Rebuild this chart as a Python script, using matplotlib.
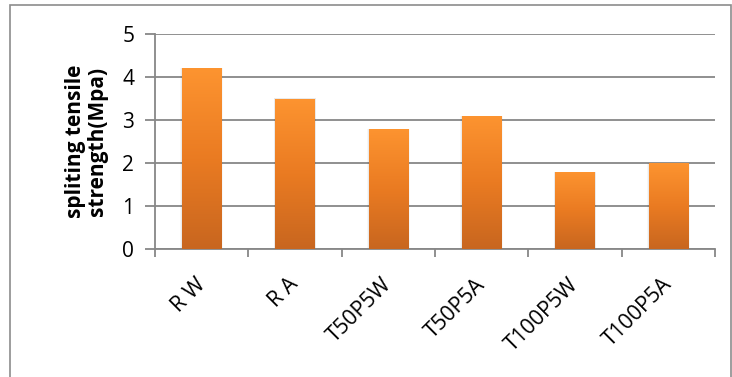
import numpy as np
import matplotlib
matplotlib.use("Agg")
import matplotlib.pyplot as plt
import matplotlib.transforms as mtransforms
from matplotlib.patches import Rectangle
from matplotlib.colors import LinearSegmentedColormap

categories = ["R W", "R A", "T50P5W", "T50P5A", "T100P5W", "T100P5A"]
strength = [4.2, 3.5, 2.8, 3.1, 1.8, 2.0]
y_ticks = [0, 1, 2, 3, 4, 5]

plt.rcParams['font.family'] = ['Open Sans', 'DejaVu Sans']

fig = plt.figure(figsize=(7.32, 3.77), dpi=100)
ax = fig.add_axes([155 / 732, 1 - 249 / 377, 560 / 732, 215 / 377])

# chart frame around the whole figure
fig.patches.append(Rectangle((10 / 732, -0.05), 721 / 732, 1.05 - 5 / 377,
                             transform=fig.transFigure, fill=False,
                             edgecolor='#8c8c8c', linewidth=1.2))

x = np.arange(len(categories))
width = 0.42
grad = LinearSegmentedColormap.from_list('orng', ['#c8661f', '#ea7b22', '#fd9430'])
gimg = np.linspace(0, 1, 256).reshape(-1, 1)

bars = ax.bar(x, strength, width=width, color='none', zorder=3)
for b in bars:
    x0, y0 = b.get_x(), b.get_y()
    w, h = b.get_width(), b.get_height()
    # faint shadow along the sides of each bar
    for k, a in enumerate([0.05, 0.03]):
        sh = Rectangle((x0 - 0.01 * (k + 1), y0), w + 0.02 * (k + 1), h,
                       facecolor='black', alpha=a, edgecolor='none', zorder=2)
        ax.add_patch(sh)
    im = ax.imshow(gimg, cmap=grad, aspect='auto', origin='lower',
                   extent=(x0, x0 + w, y0, y0 + h), zorder=3)
    clip = Rectangle((x0, y0), w, h, transform=ax.transData)
    im.set_clip_path(clip)

ax.set_xlim(-0.5, len(categories) - 0.5)
ax.set_ylim(0, 5)
ax.set_yticks(y_ticks)
ax.set_yticklabels([str(v) for v in y_ticks], fontsize=15)
ax.yaxis.grid(True, color='#878787', linewidth=1.3, zorder=0)
ax.set_axisbelow(True)

ax.set_xticks(np.arange(len(categories) + 1) - 0.5, minor=False)
ax.set_xticklabels([])
ax.set_xticks(x, minor=True)
ax.set_xticklabels(categories, minor=True, rotation=45, ha='right',
                   rotation_mode='anchor', fontsize=15.5)
ax.tick_params(axis='x', which='minor', length=0, pad=18)
ax.tick_params(axis='x', which='major', length=6, color='#878787', width=1.3)
ax.tick_params(axis='y', length=7, color='#878787', width=1.3, pad=8)

# nudge the slanted category names a little to the left
shift = mtransforms.ScaledTranslation(-7 / 100, 0, fig.dpi_scale_trans)
for lbl in ax.get_xticklabels(minor=True):
    lbl.set_transform(lbl.get_transform() + shift)

for s in ['top', 'right']:
    ax.spines[s].set_visible(False)
for s in ['left', 'bottom']:
    ax.spines[s].set_color('#878787')
    ax.spines[s].set_linewidth(1.3)

ax.set_ylabel("spliting tensile\nstrength(Mpa)", fontsize=15, fontweight='bold',
              labelpad=10, linespacing=1.05)

fig.savefig("out.png", dpi=100)
